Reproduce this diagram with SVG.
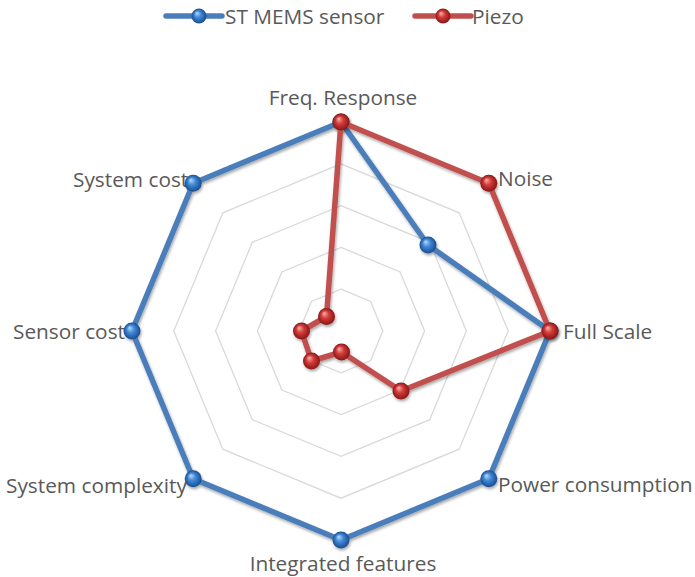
<svg xmlns="http://www.w3.org/2000/svg" width="695" height="577" viewBox="0 0 695 577">
<defs>
<radialGradient id="gb" cx="0.5" cy="0.5" r="0.5" fx="0.35" fy="0.3">
<stop offset="0" stop-color="#b9dcfb"/>
<stop offset="0.45" stop-color="#3f88d8"/>
<stop offset="1" stop-color="#1a4c8c"/>
</radialGradient>
<radialGradient id="gr" cx="0.5" cy="0.5" r="0.5" fx="0.35" fy="0.3">
<stop offset="0" stop-color="#f8b4b0"/>
<stop offset="0.45" stop-color="#d43b38"/>
<stop offset="1" stop-color="#861716"/>
</radialGradient>
<filter id="sh" x="-20%" y="-20%" width="140%" height="140%">
<feGaussianBlur in="SourceAlpha" stdDeviation="1.5"/>
<feOffset dx="1" dy="2" result="b"/>
<feComponentTransfer><feFuncA type="linear" slope="0.35"/></feComponentTransfer>
<feMerge><feMergeNode/><feMergeNode in="SourceGraphic"/></feMerge>
</filter>
</defs>
<style>
.ring{fill:none;stroke:#d9d9d9;stroke-width:1.3}
.lbl{font-family:"Open Sans","Noto Sans",sans-serif;font-size:20.8px;fill:#595959}
.lb{fill:none;stroke:#4a7ebb;stroke-width:5.5;stroke-linejoin:round;stroke-linecap:round}
.lr{fill:none;stroke:#c0504d;stroke-width:5.5;stroke-linejoin:round;stroke-linecap:round}
.mb{fill:url(#gb)}
.mr{fill:url(#gr)}
</style>
<rect width="695" height="577" fill="#ffffff"/>
<g id="grid">
<polygon class="ring" points="341,289.2 370.6,301.4 382.8,331 370.6,360.6 341,372.8 311.4,360.6 299.2,331 311.4,301.4"/>
<polygon class="ring" points="341,247.4 400.1,271.9 424.6,331 400.1,390.1 341,414.6 281.9,390.1 257.4,331 281.9,271.9"/>
<polygon class="ring" points="341,205.6 429.7,242.3 466.4,331 429.7,419.7 341,456.4 252.3,419.7 215.6,331 252.3,242.3"/>
<polygon class="ring" points="341,163.8 459.2,212.8 508.2,331 459.2,449.2 341,498.2 222.8,449.2 173.8,331 222.8,212.8"/>
<polygon class="ring" points="341,122 488.8,183.2 550,331 488.8,478.8 341,540 193.2,478.8 132,331 193.2,183.2"/>
</g>
<g id="labels">
<text class="lbl" x="343" y="104.5" text-anchor="middle">Freq. Response</text>
<text class="lbl" x="498" y="186">Noise</text>
<text class="lbl" x="563" y="339">Full Scale</text>
<text class="lbl" x="498" y="492">Power consumption</text>
<text class="lbl" x="343" y="571" text-anchor="middle">Integrated features</text>
<text class="lbl" x="6" y="493">System complexity</text>
<text class="lbl" x="13" y="339">Sensor cost</text>
<text class="lbl" x="73" y="186.5">System cost</text>
</g>
<g id="series-st-mems" filter="url(#sh)">
<polygon class="lb" points="341,122 428,245 550,331 488.8,478.8 341,540 193.2,478.8 132,331 193.2,183.2"/>
<circle class="mb" cx="341" cy="122" r="8.5"/>
<circle class="mb" cx="428" cy="245" r="8.5"/>
<circle class="mb" cx="550" cy="331" r="8.5"/>
<circle class="mb" cx="488.8" cy="478.8" r="8.5"/>
<circle class="mb" cx="341" cy="540" r="8.5"/>
<circle class="mb" cx="193.2" cy="478.8" r="8.5"/>
<circle class="mb" cx="132" cy="331" r="8.5"/>
<circle class="mb" cx="193.2" cy="183.2" r="8.5"/>
</g>
<g id="series-piezo" filter="url(#sh)">
<polygon class="lr" points="341,122 488.8,183.2 550,331 401,391 341.5,352 311.5,361 301.5,331 326.5,316.5"/>
<circle class="mr" cx="341" cy="122" r="8.5"/>
<circle class="mr" cx="488.8" cy="183.2" r="8.5"/>
<circle class="mr" cx="550" cy="331" r="8.5"/>
<circle class="mr" cx="401" cy="391" r="8.5"/>
<circle class="mr" cx="341.5" cy="352" r="8.5"/>
<circle class="mr" cx="311.5" cy="361" r="8.5"/>
<circle class="mr" cx="301.5" cy="331" r="8.5"/>
<circle class="mr" cx="326.5" cy="316.5" r="8.5"/>
</g>
<g id="legend">
<line class="lb" x1="166" y1="16" x2="222" y2="16"/>
<circle class="mb" cx="199" cy="16" r="7.5"/>
<text class="lbl" x="225" y="24">ST MEMS sensor</text>
<line class="lr" x1="415" y1="16" x2="471" y2="16"/>
<circle class="mr" cx="443" cy="16" r="7.5"/>
<text class="lbl" x="472" y="24">Piezo</text>
</g>
</svg>
